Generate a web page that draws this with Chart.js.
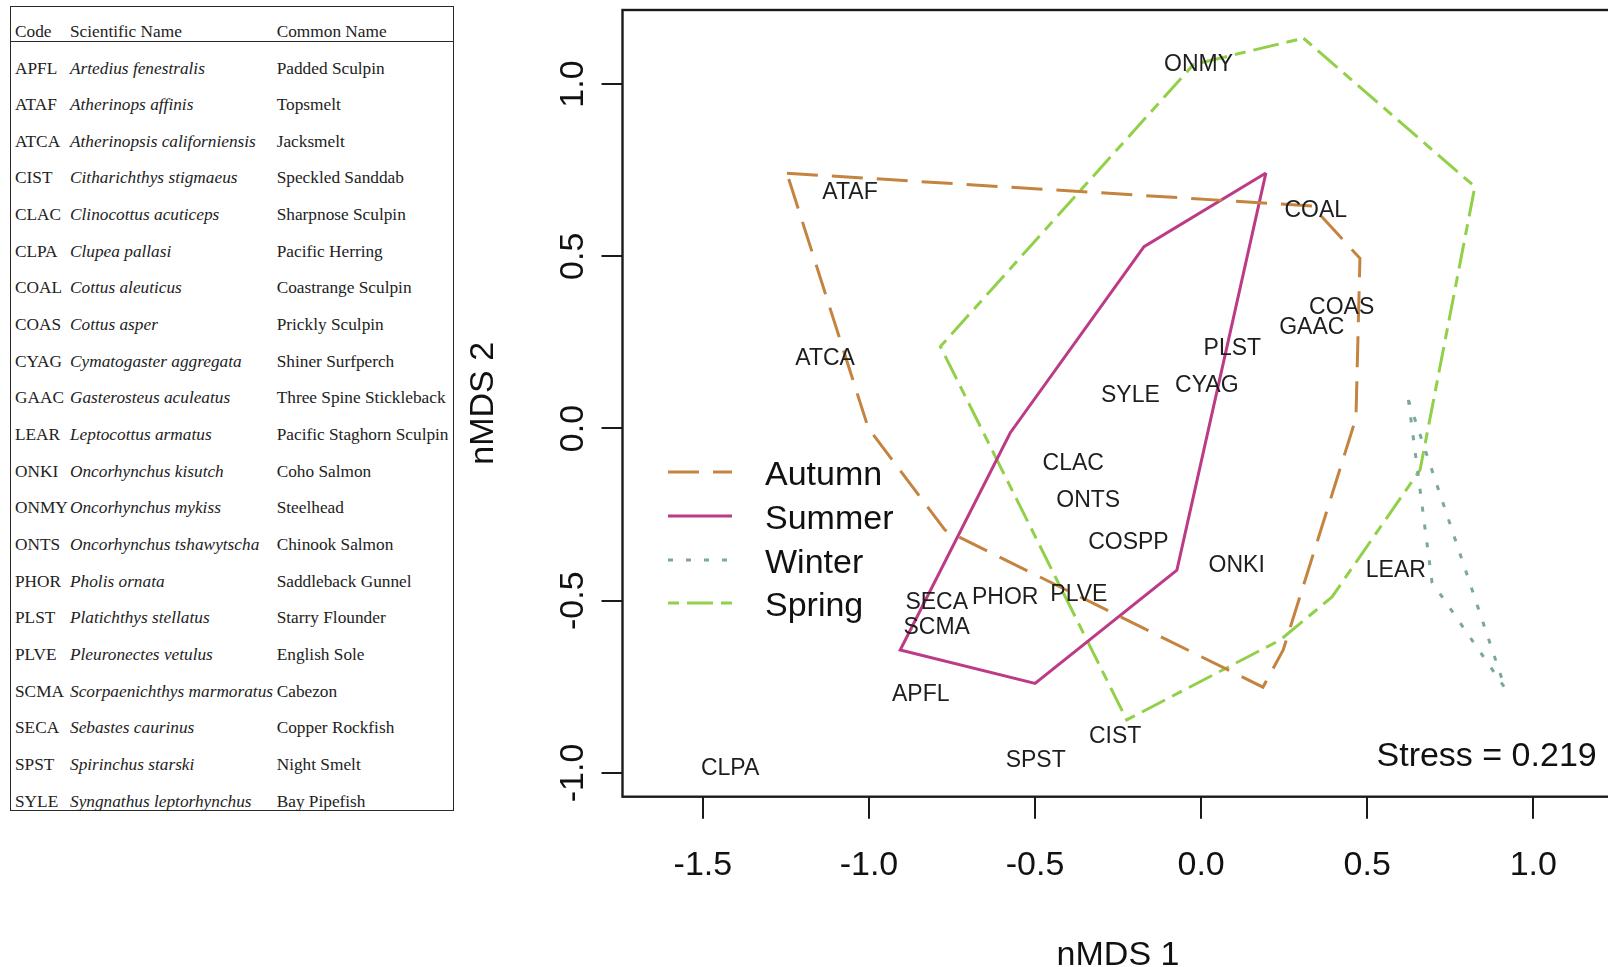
<!DOCTYPE html>
<html><head><meta charset="utf-8">
<script src="https://cdn.jsdelivr.net/npm/chart.js@4.4.1/dist/chart.umd.min.js"></script>
<style>
html,body{margin:0;padding:0;width:1608px;height:967px;overflow:hidden;background:#fff;}
#tbl{position:absolute;left:0;top:0;width:460px;height:967px;font-family:'Liberation Serif','Times New Roman',serif;color:#222;}
.t{position:absolute;white-space:nowrap;font-size:17.3px;line-height:17.3px;}
.i{font-style:italic;}
#box{position:absolute;left:10px;top:6px;width:444px;height:805px;border:1.6px solid #2a2a2a;box-sizing:border-box}
#hline{position:absolute;left:10px;top:41px;width:444px;height:0;border-top:1.6px solid #2a2a2a}
#wrap{position:absolute;left:460px;top:0;width:1166px;height:967px}
</style></head>
<body>
<div id="tbl"><div id="box"></div><div id="hline"></div></div>
<div id="wrap"><canvas id="c" width="1166" height="967"></canvas></div>
<script>
// ---- table data ----
const tableHeader = ['Code', 'Scientific Name', 'Common Name'];
const speciesCodes = ['APFL','ATAF','ATCA','CIST','CLAC','CLPA','COAL','COAS','CYAG','GAAC','LEAR','ONKI','ONMY','ONTS','PHOR','PLST','PLVE','SCMA','SECA','SPST','SYLE'];
const scientificNames = ['Artedius fenestralis','Atherinops affinis','Atherinopsis californiensis','Citharichthys stigmaeus','Clinocottus acuticeps','Clupea pallasi','Cottus aleuticus','Cottus asper','Cymatogaster aggregata','Gasterosteus aculeatus','Leptocottus armatus','Oncorhynchus kisutch','Oncorhynchus mykiss','Oncorhynchus tshawytscha','Pholis ornata','Platichthys stellatus','Pleuronectes vetulus','Scorpaenichthys marmoratus','Sebastes caurinus','Spirinchus starski','Syngnathus leptorhynchus'];
const commonNames = ['Padded Sculpin','Topsmelt','Jacksmelt','Speckled Sanddab','Sharpnose Sculpin','Pacific Herring','Coastrange Sculpin','Prickly Sculpin','Shiner Surfperch','Three Spine Stickleback','Pacific Staghorn Sculpin','Coho Salmon','Steelhead','Chinook Salmon','Saddleback Gunnel','Starry Flounder','English Sole','Cabezon','Copper Rockfish','Night Smelt','Bay Pipefish'];

// ---- species label positions (nMDS scores) ----
const labelNames = ['APFL','ATAF','ATCA','CIST','CLAC','CLPA','COAL','COAS','COSPP','CYAG','GAAC','LEAR','ONKI','ONMY','ONTS','PHOR','PLST','PLVE','SCMA','SECA','SPST','SYLE'];
const labelX = [-0.844,-1.057,-1.132,-0.259,-0.385,-1.418,0.345,0.423,-0.219,0.017,0.333,0.586,0.107,-0.008,-0.340,-0.590,0.094,-0.368,-0.796,-0.796,-0.498,-0.213];
const labelY = [-0.766,0.690,0.207,-0.890,-0.098,-0.983,0.637,0.357,-0.326,0.129,0.298,-0.408,-0.393,1.063,-0.205,-0.485,0.236,-0.478,-0.573,-0.500,-0.959,0.102];

// ---- seasonal hulls ----
const autumnX = [-1.247, 0.334, 0.478, 0.466, 0.247, 0.186, -0.771, -1.002];
const autumnY = [0.741, 0.646, 0.494, 0.030, -0.643, -0.751, -0.295, 0.001];
const summerX = [0.195, -0.172, -0.575, -0.906, -0.500, -0.073];
const summerY = [0.742, 0.528, -0.013, -0.643, -0.740, -0.411];
const winterX = [0.624, 0.915, 0.695];
const winterY = [0.083, -0.754, -0.446];
const springX = [0.308, 0.824, 0.659, 0.394, 0.238, -0.224, -0.785, -0.023];
const springY = [1.133, 0.702, -0.120, -0.489, -0.614, -0.846, 0.238, 1.057];

const seasons = ['Autumn','Summer','Winter','Spring'];
const seasonColors = ['#c4843f','#bd3b86','#7aa89c','#93d04a'];
const seasonDash = [[31,14],[],[5,13],[11,8,26,8]];

// ---- axes ----
const xTicks = [-1.5,-1.0,-0.5,0,0.5,1.0];
const xTickLabels = ['-1.5','-1.0','-0.5','0.0','0.5','1.0'];
const yTicks = [-1.0,-0.5,0,0.5,1.0];
const yTickLabels = ['-1.0','-0.5','0.0','0.5','1.0'];
const xTitle = 'nMDS 1';
const yTitle = 'nMDS 2';
const stressText = 'Stress = 0.219';

// ---- build table ----
(function(){
  const tbl = document.getElementById('tbl');
  const colX = [15, 70, 276.7];
  const add = (txt, x, cy, cls) => {
    const d = document.createElement('div');
    d.className = 't' + (cls ? ' ' + cls : '');
    d.textContent = txt;
    d.style.left = x + 'px';
    d.style.top = (cy - 8.76) + 'px';
    tbl.appendChild(d);
  };
  tableHeader.forEach((h, j) => add(h, colX[j], 31.7));
  speciesCodes.forEach((c, i) => {
    const cy = 68.3 + i * 36.65;
    add(c, colX[0], cy);
    add(scientificNames[i], colX[1], cy, 'i');
    add(commonNames[i], colX[2], cy);
  });
})();

// ---- chart ----
const pts = (xs, ys) => xs.map((x, i) => ({x: x, y: ys[i]}));
const closed = (xs, ys) => { const p = pts(xs, ys); p.push(p[0]); return p; };
const hullData = [closed(autumnX, autumnY), closed(summerX, summerY), closed(winterX, winterY), closed(springX, springY)];

const FONT = '"Liberation Sans", Arial, Helvetica, sans-serif';

const customPlugin = {
  id: 'custom',
  afterDatasetsDraw(chart) {
    const ctx = chart.ctx, xs = chart.scales.x, ys = chart.scales.y, ca = chart.chartArea;
    ctx.save();
    // species labels
    const meta = chart.getDatasetMeta(4);
    ctx.font = '23px ' + FONT;
    ctx.fillStyle = '#1e1e1e';
    ctx.textAlign = 'center';
    ctx.textBaseline = 'alphabetic';
    meta.data.forEach((el, i) => ctx.fillText(labelNames[i], el.x, el.y + 23 * 0.358));

    // legend
    const lx0 = ca.left + 45.5, lx1 = ca.left + 109.5, tx = ca.left + 142.5;
    const baseY = [485, 529, 573, 616];
    seasons.forEach((s, i) => {
      ctx.beginPath();
      ctx.setLineDash(seasonDash[i]);
      ctx.lineWidth = 3.2;
      ctx.strokeStyle = seasonColors[i];
      ctx.moveTo(lx0, baseY[i] - 13);
      ctx.lineTo(lx1, baseY[i] - 13);
      ctx.stroke();
      ctx.setLineDash([]);
      ctx.font = '34px ' + FONT;
      ctx.fillStyle = '#111';
      ctx.textAlign = 'left';
      ctx.fillText(s, tx, baseY[i]);
    });

    // stress
    ctx.font = '34px ' + FONT;
    ctx.textAlign = 'right';
    ctx.fillStyle = '#111';
    ctx.fillText(stressText, 1136.7, 766);

    // plot box
    ctx.setLineDash([]);
    ctx.lineWidth = 2.4;
    ctx.strokeStyle = '#1a1a1a';
    ctx.strokeRect(ca.left, ca.top, ca.right - ca.left, ca.bottom - ca.top);

    // x tick labels
    ctx.font = '34px ' + FONT;
    ctx.textAlign = 'center';
    ctx.fillStyle = '#111';
    xTicks.forEach((v, i) => ctx.fillText(xTickLabels[i], xs.getPixelForValue(v), ca.bottom + 78.3));
    // x title
    ctx.fillText(xTitle, 658, 965);
    // y tick labels (rotated)
    yTicks.forEach((v, i) => {
      ctx.save();
      ctx.translate(ca.left - 39.5, ys.getPixelForValue(v));
      ctx.rotate(-Math.PI / 2);
      ctx.textAlign = 'center';
      ctx.fillText(yTickLabels[i], 0, 0);
      ctx.restore();
    });
    // y title
    ctx.save();
    ctx.translate(33, (ca.top + ca.bottom) / 2);
    ctx.rotate(-Math.PI / 2);
    ctx.textAlign = 'center';
    ctx.fillText(yTitle, 0, 0);
    ctx.restore();
    ctx.restore();
  }
};

new Chart(document.getElementById('c'), {
  type: 'scatter',
  data: {
    datasets: seasons.map((s, i) => ({
      label: s,
      data: hullData[i],
      showLine: true,
      borderColor: seasonColors[i],
      backgroundColor: seasonColors[i],
      borderWidth: 3,
      borderDash: seasonDash[i],
      pointRadius: 0,
      pointHoverRadius: 0,
      fill: false,
      tension: 0
    })).concat([{
      label: 'species',
      data: pts(labelX, labelY),
      showLine: false,
      pointRadius: 0,
      pointHoverRadius: 0
    }])
  },
  options: {
    responsive: false,
    devicePixelRatio: 1,
    animation: false,
    events: [],
    layout: { padding: { top: 10, right: 0, left: 0, bottom: 0 } },
    plugins: { legend: { display: false }, tooltip: { enabled: false } },
    scales: {
      x: {
        type: 'linear', min: -1.742, max: 1.279,
        afterBuildTicks: (sc) => { sc.ticks = xTicks.map(v => ({value: v})); },
        afterFit: (sc) => { sc.height = 170.3; },
        ticks: { display: false, autoSkip: false },
        grid: { display: true, drawOnChartArea: false, drawTicks: true, tickLength: 22, color: '#1a1a1a', lineWidth: 2 },
        border: { display: false }
      },
      y: {
        type: 'linear', min: -1.069, max: 1.215,
        afterBuildTicks: (sc) => { sc.ticks = yTicks.map(v => ({value: v})); },
        afterFit: (sc) => { sc.width = 162.5; },
        ticks: { display: false, autoSkip: false },
        grid: { display: true, drawOnChartArea: false, drawTicks: true, tickLength: 21, color: '#1a1a1a', lineWidth: 2 },
        border: { display: false }
      }
    }
  },
  plugins: [customPlugin]
});
</script>
</body></html>
